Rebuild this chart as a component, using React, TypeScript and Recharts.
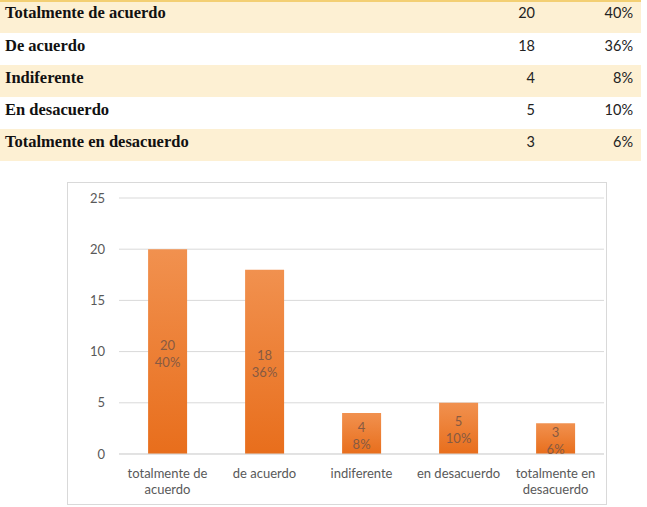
import { BarChart, Bar, XAxis, YAxis, CartesianGrid, LabelList, Text } from 'recharts';

const categories = ['totalmente de acuerdo', 'de acuerdo', 'indiferente', 'en desacuerdo', 'totalmente en desacuerdo'];
const rowLabels = ['Totalmente de acuerdo', 'De acuerdo', 'Indiferente', 'En desacuerdo', 'Totalmente en desacuerdo'];
const counts = [20, 18, 4, 5, 3];
const percents = [40, 36, 8, 10, 6];
const yTicks = [0, 5, 10, 15, 20, 25];

const data = categories.map((name, i) => ({ name, count: counts[i], pct: percents[i] }));

const SANS = 'Lato, "Open Sans", sans-serif';

function CategoryTick(props: any) {
  const { x, y, payload } = props;
  return (
    <Text
      x={x}
      y={y + 7}
      width={94}
      textAnchor="middle"
      verticalAnchor="start"
      lineHeight={16}
      fill="#595959"
      fontSize={13}
      fontFamily={SANS}
    >
      {payload.value}
    </Text>
  );
}

// two-line label in the middle of each bar: count, then percent
function InsideLabel(props: any) {
  const { x, y, width, height, index } = props;
  const cx = x + width / 2;
  const cy = y + height / 2;
  return (
    <text x={cx} textAnchor="middle" fill="#875a42" fontSize={13} fontFamily={SANS}>
      <tspan x={cx} y={cy - 2}>{counts[index]}</tspan>
      <tspan x={cx} y={cy + 15}>{percents[index]}%</tspan>
    </text>
  );
}

function SummaryTable() {
  return (
    <div style={{ position: 'absolute', left: 0, top: 0, width: 641 }}>
      <div style={{ height: 2, background: '#f3cf73' }} />
      {rowLabels.map((label, i) => (
        <div
          key={label}
          style={{
            position: 'relative',
            height: i === 0 ? 31 : 32,
            background: i % 2 === 0 ? '#fdf0d3' : '#ffffff',
          }}
        >
          <span
            style={{
              position: 'absolute',
              left: 5,
              top: i === 0 ? 1 : 3,
              fontFamily: '"Liberation Serif", "Times New Roman", serif',
              fontWeight: 'bold',
              fontSize: 16.5,
              color: '#111',
            }}
          >
            {label}
          </span>
          <span
            style={{
              position: 'absolute',
              right: 641 - 535,
              top: i === 0 ? 2 : 4,
              fontFamily: SANS,
              fontSize: 14.5,
              color: '#222',
            }}
          >
            {counts[i]}
          </span>
          <span
            style={{
              position: 'absolute',
              right: 641 - 633,
              top: i === 0 ? 2 : 4,
              fontFamily: SANS,
              fontSize: 14.5,
              color: '#222',
            }}
          >
            {percents[i]}%
          </span>
        </div>
      ))}
    </div>
  );
}

export default function App() {
  return (
    <div style={{ position: 'absolute', left: 0, top: 0, width: 647, height: 507, background: '#fff' }}>
      <SummaryTable />
      <div
        style={{
          position: 'absolute',
          left: 67,
          top: 182,
          width: 540,
          height: 323,
          border: '1px solid #d9d9d9',
          boxSizing: 'border-box',
          background: '#fff',
        }}
      >
        <BarChart
          width={538}
          height={321}
          data={data}
          margin={{ top: 15, right: 2, bottom: 0, left: 0 }}
          barCategoryGap="30%"
        >
          <defs>
            <linearGradient id="barFill" x1="0" y1="0" x2="0" y2="1">
              <stop offset="0%" stopColor="#f1914f" />
              <stop offset="100%" stopColor="#e86e1c" />
            </linearGradient>
          </defs>
          <CartesianGrid vertical={false} stroke="#d9d9d9" />
          <XAxis
            dataKey="name"
            axisLine={{ stroke: '#d9d9d9' }}
            tickLine={false}
            height={50}
            interval={0}
            tick={<CategoryTick />}
          />
          <YAxis
            width={51}
            domain={[0, 25]}
            ticks={yTicks}
            axisLine={false}
            tickLine={false}
            tickSize={6}
            tickMargin={8}
            tick={{ fill: '#595959', fontSize: 13, fontFamily: SANS }}
          />
          <Bar dataKey="count" fill="url(#barFill)" isAnimationActive={false}>
            <LabelList dataKey="count" content={<InsideLabel />} />
          </Bar>
        </BarChart>
      </div>
    </div>
  );
}
